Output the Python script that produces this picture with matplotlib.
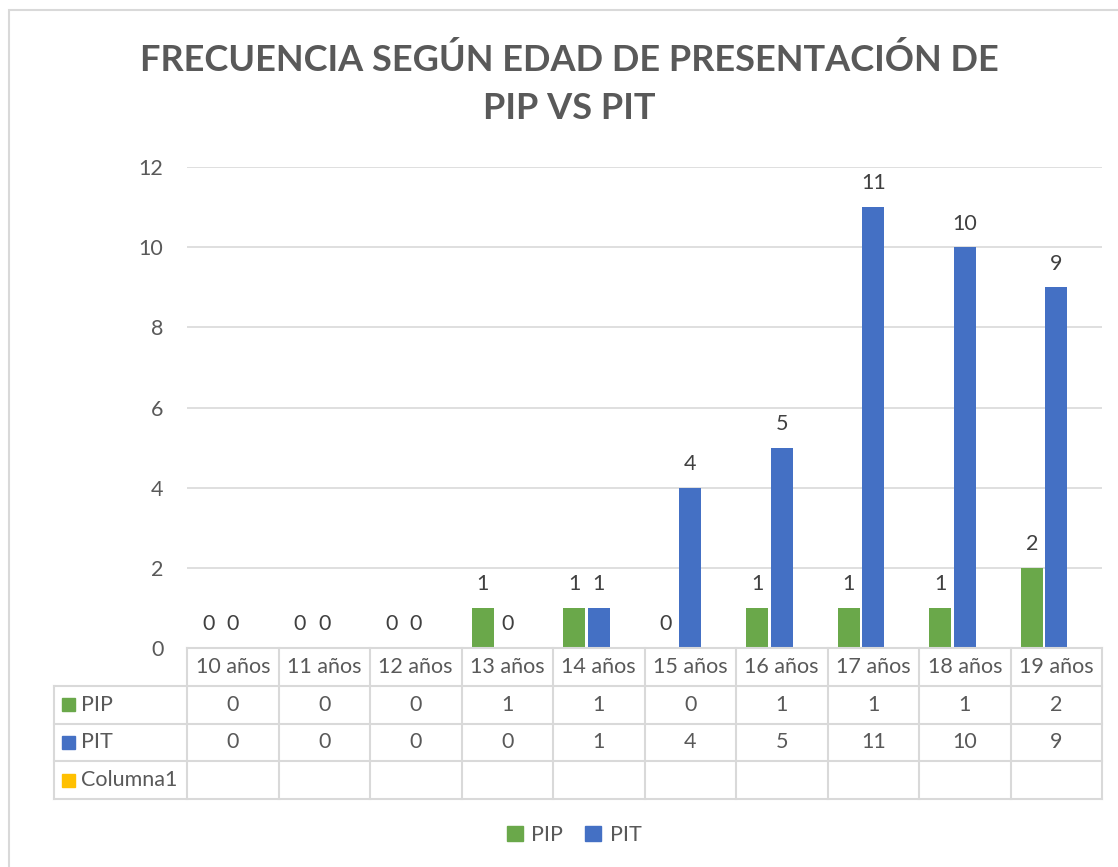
import matplotlib
matplotlib.use("Agg")
import matplotlib.pyplot as plt
from matplotlib.patches import Rectangle
import numpy as np

plt.rcParams['font.family'] = ['Lato', 'DejaVu Sans']

# datos
edades = ["10 años", "11 años", "12 años", "13 años", "14 años",
          "15 años", "16 años", "17 años", "18 años", "19 años"]
pip = [0, 0, 0, 1, 1, 0, 1, 1, 1, 2]
pit = [0, 0, 0, 0, 1, 4, 5, 11, 10, 9]
series = ["PIP", "PIT", "Columna1"]
titulo = "FRECUENCIA SEGÚN EDAD DE PRESENTACIÓN DE\nPIP VS PIT"

verde = "#6aa84a"
azul = "#4470c4"
amarillo = "#ffc000"
gris_txt = "#595959"
gris_lin = "#d9d9d9"
fs = 15.5

W, H = 1118, 867
fig = plt.figure(figsize=(W / 100, H / 100), dpi=100)

def fx(px):
    return px / W

def fy(py):
    return 1 - py / H

# marco exterior
fig.patches.append(Rectangle((fx(9), fy(H + 20)), 2, fy(10) - fy(H + 20),
                             transform=fig.transFigure, fill=False,
                             edgecolor=gris_lin, linewidth=1.5))

fig.text(0.509, fy(84), titulo, ha="center", va="center", fontsize=26,
         fontweight="bold", color=gris_txt, linespacing=1.58)

# area del grafico
ax = fig.add_axes([fx(187), fy(648), fx(1102) - fx(187), fy(167) - fy(648)])
x = np.arange(len(edades))
w = 0.24
paso = 0.268  # hay una tercera serie vacia (Columna1) a la derecha
b1 = ax.bar(x - paso, pip, w, color=verde)
b2 = ax.bar(x, pit, w, color=azul)
for bars, vals in ((b1, pip), (b2, pit)):
    for r, v in zip(bars, vals):
        ax.annotate(str(v), (r.get_x() + r.get_width() / 2, v), xytext=(0, 17),
                    textcoords="offset points", ha="center", va="center",
                    fontsize=fs, color="#404040")

ax.set_xlim(-0.5, len(edades) - 0.5)
ax.set_ylim(0, 12)
ax.set_yticks(range(0, 13, 2))
ax.tick_params(axis="y", length=0, pad=17, labelsize=fs, labelcolor=gris_txt)
ax.set_xticks([])
ax.grid(axis="y", color=gris_lin, linewidth=1.2)
ax.set_axisbelow(True)
for s in ax.spines.values():
    s.set_visible(False)

# tabla de datos
tb = fig.add_axes([fx(187), fy(799), fx(1102) - fx(187), fy(648) - fy(799)])
tb.set_xlim(-0.5, len(edades) - 0.5)
tb.set_ylim(0, 4)
tb.axis("off")
lw = 1.5
left = -0.5 - (187 - 54) / ((1102 - 187) / len(edades))
for yy in [0, 1, 2, 3]:
    tb.plot([left, 9.5], [yy, yy], color=gris_lin, lw=lw, clip_on=False)
tb.plot([-0.5, 9.5], [4, 4], color=gris_lin, lw=lw, clip_on=False)
for xx in np.arange(-0.5, 10, 1):
    tb.plot([xx, xx], [0, 4], color=gris_lin, lw=lw, clip_on=False)
tb.plot([left, left], [0, 3], color=gris_lin, lw=lw, clip_on=False)

for i, e in enumerate(edades):
    tb.text(i, 3.5, e, ha="center", va="center", fontsize=fs, color=gris_txt)
    tb.text(i, 2.5, str(pip[i]), ha="center", va="center", fontsize=fs, color=gris_txt)
    tb.text(i, 1.5, str(pit[i]), ha="center", va="center", fontsize=fs, color=gris_txt)

colores = [verde, azul, amarillo]
sq = 0.14
for j, (nombre, c) in enumerate(zip(series, colores)):
    yc = 2.5 - j
    tb.add_patch(Rectangle((left + 0.09, yc - 0.17), sq, 0.34, color=c, clip_on=False))
    tb.text(left + 0.29, yc, nombre, ha="left", va="center", fontsize=fs,
            color=gris_txt, clip_on=False)

# leyenda
fig.legend(handles=[Rectangle((0, 0), 1, 1, color=verde),
                    Rectangle((0, 0), 1, 1, color=azul)],
           labels=["PIP", "PIT"], loc="center", bbox_to_anchor=(fx(574), fy(835)),
           ncol=2, frameon=False, fontsize=fs, handlelength=0.75, handleheight=0.75,
           handletextpad=0.4, columnspacing=1.0, labelcolor=gris_txt)

fig.savefig("out.png", dpi=100)
